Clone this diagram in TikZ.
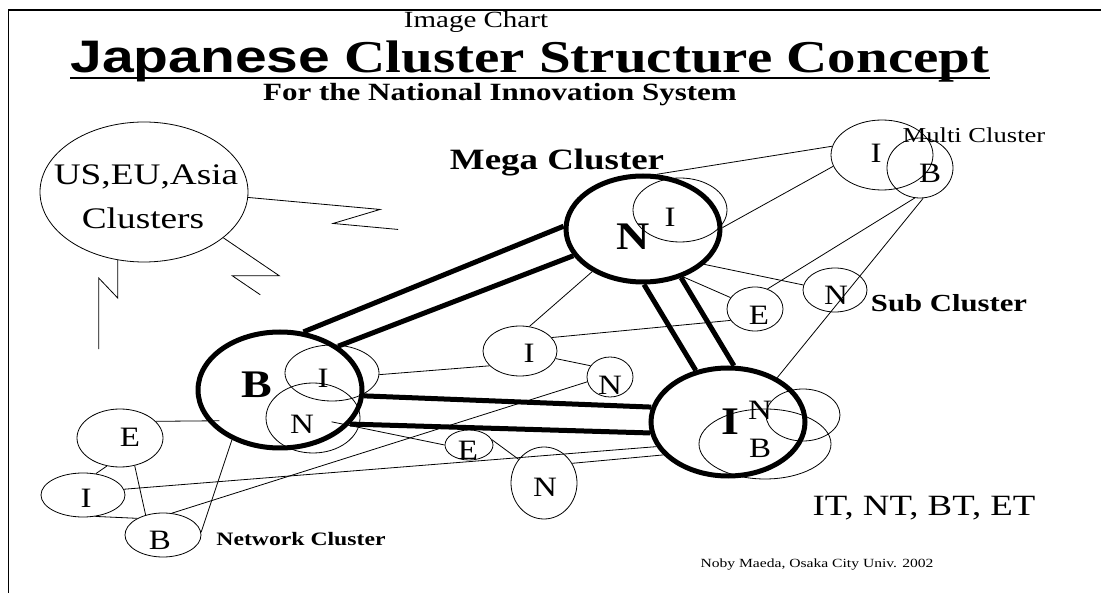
\documentclass[tikz,border=0pt]{standalone}
\usepackage{fontspec}
\setmainfont{Liberation Serif}
\setsansfont{Liberation Sans}
\usetikzlibrary{shapes.geometric}

\newcommand{\fsz}[1]{\fontsize{#1}{#1}\selectfont}

\tikzset{
  cluster/.style={ellipse, draw, line width=5pt, inner sep=0pt},
  sub/.style={ellipse, draw, line width=0.8pt, inner sep=0pt},
  link/.style={line width=0.8pt},
  bar/.style={line width=5pt},
  txt/.style={inner sep=0pt, yscale=0.8, anchor=base},
  letter/.style={inner sep=0pt, yscale=0.85, font=\fsz{33}},
  bigletter/.style={inner sep=0pt, yscale=0.85, font=\bfseries\fsz{46}},
}

\begin{document}
\begin{tikzpicture}[x=1pt, y=-1pt]
    \useasboundingbox (0,0) rectangle (1101,593);
    % Frame
    \draw[line width=1.5pt] (8.5,593) -- (8.5,10) -- (1101,10);
    % Headings
    \node[txt, font=\fsz{29}] (imgchart) at (476,28) {Image Chart};
    \node[txt, font=\bfseries\fsz{57}] (title) at (530,73) {{\sffamily\fsz{57}Japanese} Cluster Structure Concept};
    \draw[line width=2.5pt] ([yshift=-5pt]title.base west) -- ([yshift=-5pt]title.base east);
    \node[txt, font=\bfseries\fsz{31}] (subtitle) at (500,101) {For the National Innovation System};
    % Labels
    \node[txt, font=\fsz{26.6}] (multilbl) at (974,143) {Multi Cluster};
    \node[txt, font=\bfseries\fsz{36.9}] (megalbl) at (557,170) {Mega Cluster};
    \node[txt, font=\bfseries\fsz{30.7}] (sublbl) at (949,312) {Sub Cluster};
    \node[txt, font=\bfseries\fsz{23.7}] (netlbl) at (301,545) {Network Cluster};
    \node[txt, font=\fsz{36.8}] (techs) at (924,515) {IT, NT, BT, ET};
    \node[txt, font=\fsz{15.6}] (noby) at (817,567) {Noby Maeda, Osaka City Univ. 2002};
    % Foreign clusters
    \node[sub, minimum width=208, minimum height=140] (usEU) at (144,192) {};
    \node[txt, font=\fsz{37.3}] (usEU-t1) at (146,185) {US,EU,Asia};
    \node[txt, font=\fsz{37.3}] (usEU-t2) at (143,229) {Clusters};
    \draw[link] (usEU.357) -- ++(132,12) -- ++(-47,14) -- ++(65,6);
    \draw[link] (usEU.330) -- ++(56,38) -- ++(-47,0) -- ++(28,19);
    \draw[link] (usEU.249) -- ++(0,38) -- ++(-19,-20) -- ++(0,71);
    % Mega clusters
    \node[cluster, minimum width=154, minimum height=106] (megaN) at (643,229) {};
    \node[cluster, minimum width=164, minimum height=116] (bigB) at (280,390) {};
    \node[cluster, minimum width=154, minimum height=108] (bigI) at (728,422) {};
    \node[bigletter] (megaN-t) at (633,237) {N};
    \node[bigletter] (bigB-t) at (257,385) {B};
    \node[bigletter] (bigI-t) at (730,422) {I};
    % Sub clusters: name/x/y/rx/ry
    \foreach \n/\x/\y/\rx/\ry in {megaI/680/210/47/32, multiI/882/155/51/35,
        multiB/920/168/33/30, subE/755/309/28/22, subN/835/290/32/22,
        midI/520/351/37/25, smallN/610/377/23/20, bI/332/373/47/28,
        bN/313/418/47/35, iN/803/415/37/26, iB/765/444/66/35,
        lowE/469/445/24/15, lowN/544/483/33/36, netE/120/438/43/29,
        netI/83/495/42/22, netB/163/535/38/22}
      \node[sub, minimum width=2*\rx, minimum height=2*\ry] (\n) at (\x,\y) {};
    \foreach \n/\x/\y/\l in {megaI/670/217/I, multiI/876/153/I, multiB/930/173/B,
        subE/759/315/E, subN/836/295/N, midI/529/353/I, smallN/610/385/N,
        bI/323/378/I, bN/302/424/N, iN/760/410/N, iB/760/448/B,
        lowE/468/450/E, lowN/545/487/N, netE/130/437/E, netI/86/498/I,
        netB/160/540/B}
      \node[letter] (\n-t) at (\x,\y) {\l};
    % Double bars between mega clusters
    \draw[bar] (bigB.68) -- (megaN.178);
    \draw[bar] (bigB.37) -- (megaN.201);
    \draw[bar] (megaN.271) -- (bigI.122);
    \draw[bar] (megaN.308) -- (bigI.84);
    \draw[bar] (bigB.356) -- (bigI.169);
    \draw[bar] (bigB.334) -- (bigI.188);
    % Thin links
    \draw[link] (megaN.76) -- (multiI.170);
    \draw[link] (multiI.193) -- (megaN.1);
    \draw[link] (multiB.260) -- (subE.58);
    \draw[link] (multiB.276) -- (bigI.42);
    \draw[link] (megaN.330) -- (subN.171);
    \draw[link] (megaN.310) -- (subE.155);
    \draw[link] (megaN.220) -- (midI.69);
    \draw[link] (midI.23) -- (subE.205);
    \draw[link] (midI.348) -- (smallN.150);
    \draw[link] (bI.358) -- (midI.206);
    \draw[link] (netB.68) -- (smallN.192);
    \draw[link, shorten <=19pt] (bN.center) -- (lowE.west);
    \draw[link] (lowE.13) -- (lowN.137);
    \draw[link] (netI.8) -- (bigI.199);
    \draw[link] (lowN.35) -- (bigI.207);
    \draw[link, shorten >=-12pt] (netE.25) -- (bigB.203);
    \draw[link] (netB.4) -- (bigB.226);
    \draw[link] (netE.245) -- (netI.59);
    \draw[link] (netE.298) -- (netB.131);
    \draw[link] (netI.300) -- (netB.147);
\end{tikzpicture}
\end{document}
